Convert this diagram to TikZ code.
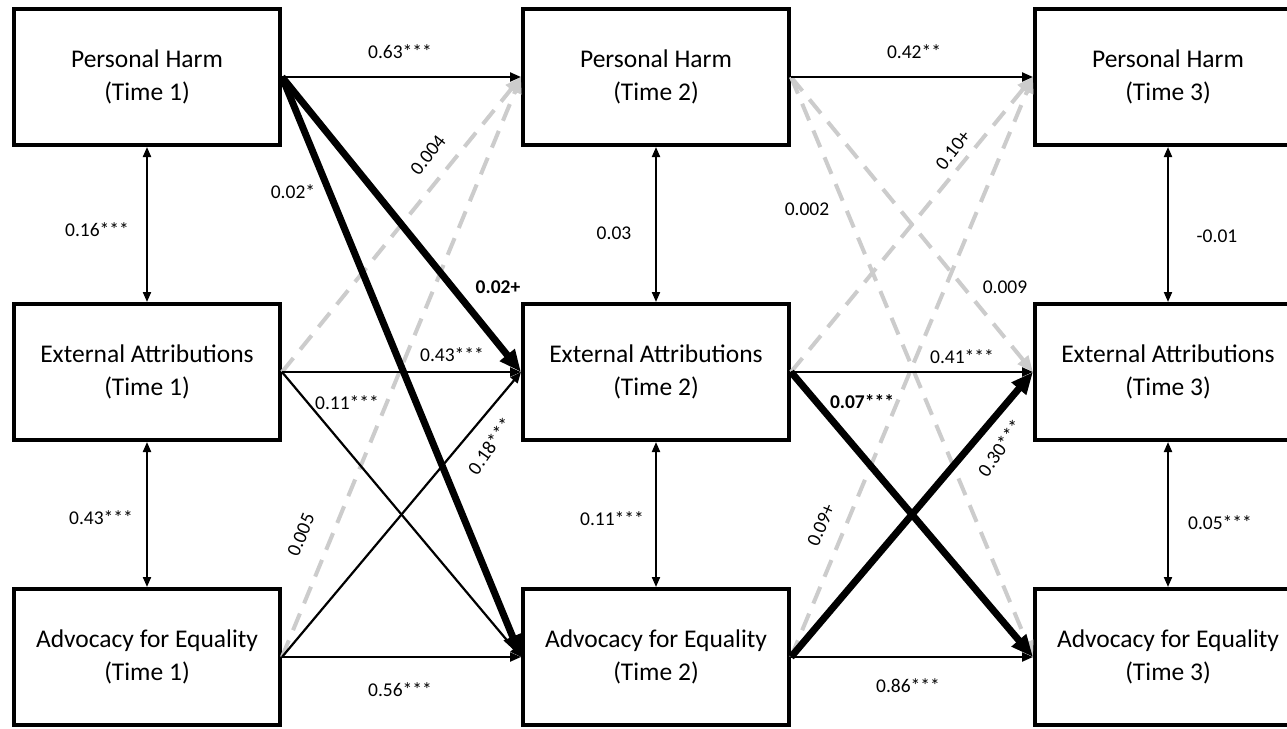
\documentclass[tikz,border=0pt]{standalone}
\usepackage{fontspec}
\setmainfont{Carlito}
\usetikzlibrary{arrows.meta}
\definecolor{lgray}{HTML}{CCCCCC}
\begin{document}
\begin{tikzpicture}[x=1pt,y=-1pt,
  box/.style={draw=black,line width=4pt,minimum width=266pt,minimum height=136pt,align=center,font=\fontsize{25.5}{33}\selectfont,inner sep=0pt},
  lab/.style={font=\fontsize{19.5}{22}\selectfont,inner sep=1pt},
  thinarr/.style={line width=2.2pt,-{Triangle[length=11pt,width=9pt]}},
  dblarr/.style={line width=2pt,{Triangle[length=10pt,width=8pt]}-{Triangle[length=10pt,width=8pt]}},
  thickarr/.style={line width=7pt,-{Triangle[length=22pt,width=18pt]}},
  grayd/.style={draw=lgray,line width=4pt,dash pattern=on 18pt off 11pt,-{Triangle[length=16pt,width=13pt]}},
]
\useasboundingbox (0,0) rectangle (1287,728);
\clip (0,0) rectangle (1287,728);
\fill[white] (0,0) rectangle (1287,728);

% boxes
\node[box] (ph1) at (147,77) {Personal Harm\\(Time 1)};
\node[box] (ea1) at (147,372) {External Attributions\\(Time 1)};
\node[box] (ae1) at (147,657) {Advocacy for Equality\\(Time 1)};
\node[box] (ph2) at (656,77) {Personal Harm\\(Time 2)};
\node[box] (ea2) at (656,372) {External Attributions\\(Time 2)};
\node[box] (ae2) at (656,657) {Advocacy for Equality\\(Time 2)};
\node[box] (ph3) at (1168,77) {Personal Harm\\(Time 3)};
\node[box] (ea3) at (1168,372) {External Attributions\\(Time 3)};
\node[box] (ae3) at (1168,657) {Advocacy for Equality\\(Time 3)};

% dashed gray (non-significant)
\draw[grayd] (ea1.east) -- (ph2.west);
\draw[grayd] (ae1.east) -- (ph2.west);
\draw[grayd] (ea2.east) -- (ph3.west);
\draw[grayd] (ae2.east) -- (ph3.west);
\draw[grayd] (ph2.east) -- (ea3.west);
\draw[grayd] (ph2.east) -- (ae3.west);

% thin solid
\draw[thinarr] (ph1.east) -- (ph2.west);
\draw[thinarr] (ph2.east) -- (ph3.west);
\draw[thinarr] (ea1.east) -- (ea2.west);
\draw[thinarr] (ea2.east) -- (ea3.west);
\draw[thinarr] (ae1.east) -- (ae2.west);
\draw[thinarr] (ae2.east) -- (ae3.west);
\draw[thinarr] (ea1.east) -- (ae2.west);
\draw[thinarr] (ae1.east) -- (ea2.west);

% thick solid
\draw[thickarr] (ph1.east) -- (ea2.west);
\draw[thickarr] (ph1.east) -- (ae2.west);
\draw[thickarr] (ea2.east) -- (ae3.west);
\draw[thickarr] (ae2.east) -- (ea3.west);

% vertical correlations
\draw[dblarr] (ph1.south) -- (ea1.north);
\draw[dblarr] (ea1.south) -- (ae1.north);
\draw[dblarr] (ph2.south) -- (ea2.north);
\draw[dblarr] (ea2.south) -- (ae2.north);
\draw[dblarr] (ph3.south) -- (ea3.north);
\draw[dblarr] (ea3.south) -- (ae3.north);

% labels
\node[lab] (l63) at (400,52) {0.63***};
\node[lab] (l42) at (914,52) {0.42**};
\node[lab] (l16) at (97,230) {0.16***};
\node[lab] (l43v) at (101,518) {0.43***};
\node[lab] (l03) at (614,233) {0.03};
\node[lab] (l11v) at (612,519) {0.11***};
\node[lab] (l01) at (1217,236) {-0.01};
\node[lab] (l05) at (1220,523) {0.05***};
\node[lab] (l43h) at (452,355) {0.43***};
\node[lab] (l41) at (962,357) {0.41***};
\node[lab] (l56) at (400,690) {0.56***};
\node[lab] (l86) at (908,686) {0.86***};
\node[lab] (l02s) at (293,192) {0.02*};
\node[lab,font=\fontsize{19.5}{22}\selectfont\bfseries] (l02p) at (498,287) {0.02+};
\node[lab,rotate=52] (l004) at (428,155) {0.004};
\node[lab,rotate=68] (l005) at (301,535) {0.005};
\node[lab] (l11d) at (347,403) {0.11***};
\node[lab,rotate=55] (l18) at (490,446) {0.18***};
\node[lab] (l002) at (807,209) {0.002};
\node[lab,rotate=52] (l10) at (953,150) {0.10+};
\node[lab] (l009) at (1005,287) {0.009};
\node[lab,font=\fontsize{19.5}{22}\selectfont\bfseries] (l07) at (862,402) {0.07***};
\node[lab,rotate=55] (l30) at (1000,448) {0.30***};
\node[lab,rotate=67] (l09) at (821,525) {0.09+};
\end{tikzpicture}
\end{document}
